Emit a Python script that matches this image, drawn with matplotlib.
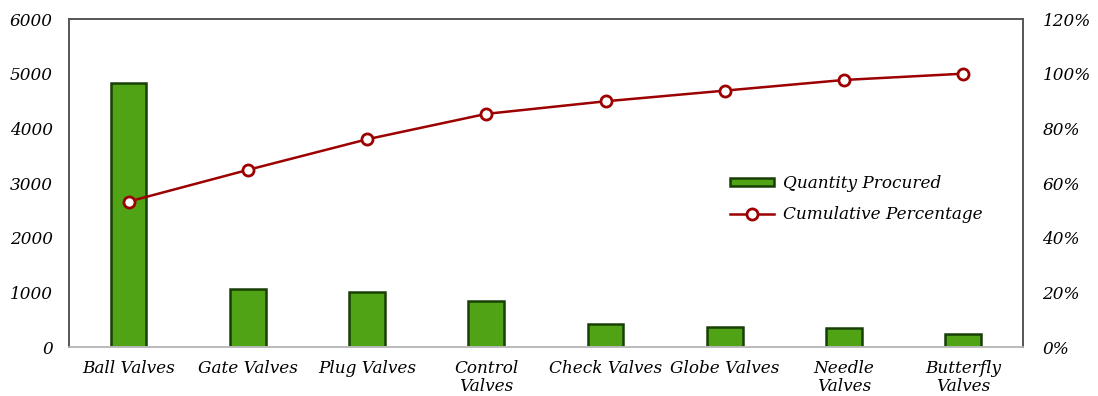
import matplotlib.pyplot as plt
import numpy as np
from matplotlib.ticker import FuncFormatter

valves = ['Ball Valves', 'Gate Valves', 'Plug Valves', 'Control\nValves',
          'Check Valves', 'Globe Valves', 'Needle\nValves', 'Butterfly\nValves']
quantity = [4830, 1070, 1000, 840, 425, 370, 350, 240]
cum_pct = [53.2, 64.8, 76.0, 85.3, 89.9, 93.8, 97.7, 100.0]

plt.rcParams['font.family'] = 'DejaVu Serif'
plt.rcParams['font.style'] = 'italic'
plt.rcParams['font.size'] = 12.2

fig = plt.figure(figsize=(10.98, 3.96), dpi=100)
ax = fig.add_axes([0.0628, 0.1237, 0.8689, 0.8283])
ax2 = ax.twinx()

x = np.arange(len(valves))
bars = ax.bar(x, quantity, width=0.3, color='#4fa315', edgecolor='#183f06',
              linewidth=1.8, label='Quantity Procured', zorder=2)
line, = ax2.plot(x, cum_pct, color='#9c0000', linewidth=1.8, marker='o',
                 markersize=8, markerfacecolor='white', markeredgecolor='#9c0000',
                 markeredgewidth=2, label='Cumulative Percentage', zorder=3)

ax.set_xlim(-0.5, len(valves) - 0.5)
ax.set_ylim(0, 6000)
ax.set_yticks(range(0, 6001, 1000))
ax2.set_ylim(0, 120)
ax2.set_yticks(range(0, 121, 20))
ax2.yaxis.set_major_formatter(FuncFormatter(lambda v, p: f'{v:.0f}%'))

ax.set_xticks(x)
ax.set_xticklabels(valves, linespacing=1.15)
ax.tick_params(axis='x', length=0, pad=9)
ax.tick_params(axis='y', length=0, pad=11.5)
ax2.tick_params(axis='y', length=0, pad=14)

for a in (ax, ax2):
    a.spines['left'].set_color('#555555')
    a.spines['right'].set_color('#555555')
    a.spines['top'].set_color('#555555')
    a.spines['bottom'].set_color('#bbbbbb')
    for s in a.spines.values():
        s.set_linewidth(1.2)

leg = ax2.legend([bars, line], ['Quantity Procured', 'Cumulative Percentage'],
                 loc='upper left', bbox_to_anchor=(0.677, 0.57), frameon=False,
                 handlelength=2.6, handleheight=0.35, labelspacing=0.8,
                 handletextpad=0.5)

fig.savefig('out.png', dpi=100)
